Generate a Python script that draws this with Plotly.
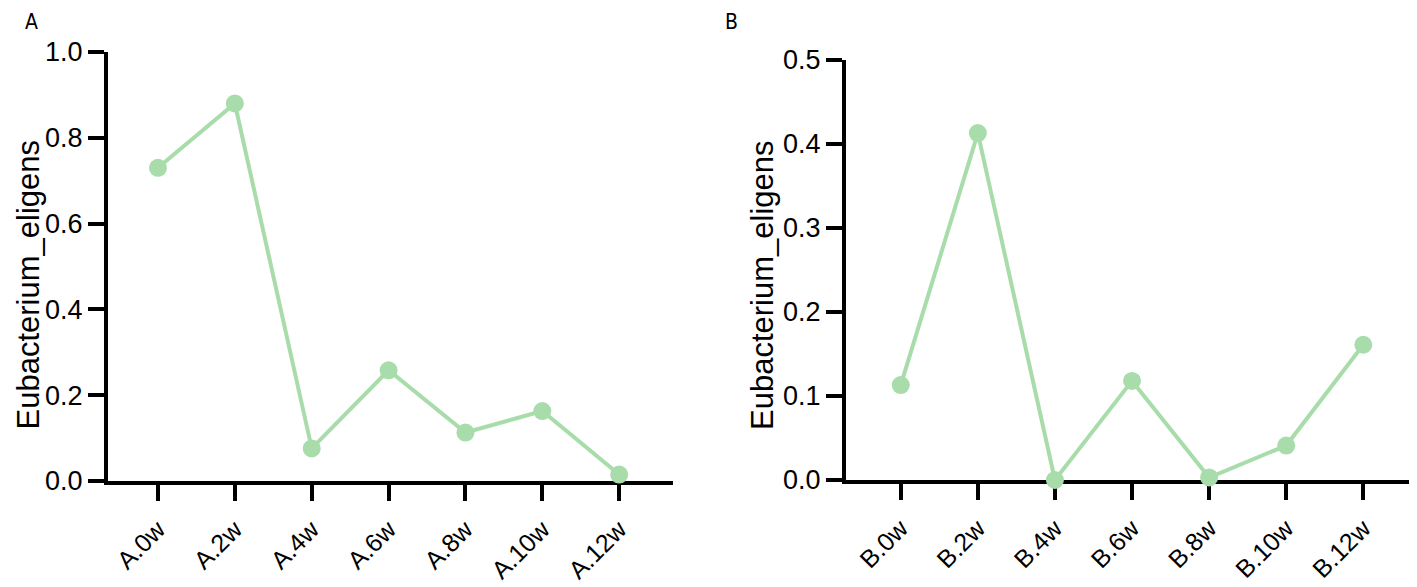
import plotly.graph_objects as go
from plotly.subplots import make_subplots

# sample labels and abundance values
labels_a = ["A.0w", "A.2w", "A.4w", "A.6w", "A.8w", "A.10w", "A.12w"]
values_a = [0.73, 0.88, 0.076, 0.258, 0.113, 0.163, 0.015]

labels_b = ["B.0w", "B.2w", "B.4w", "B.6w", "B.8w", "B.10w", "B.12w"]
values_b = [0.113, 0.413, 0.0, 0.118, 0.003, 0.041, 0.161]

green = "#a9dcab"
W, H = 1417, 587
OFF = 8  # page body margin


def px(x):
    return (x - OFF) / W


def py(y):
    return (H - (y - OFF)) / H


fig = make_subplots(rows=1, cols=2)

fig.add_trace(go.Scatter(x=labels_a, y=values_a, mode="lines+markers",
                         line=dict(color=green, width=4),
                         marker=dict(color=green, size=18),
                         cliponaxis=False, showlegend=False), row=1, col=1)
fig.add_trace(go.Scatter(x=labels_b, y=values_b, mode="lines+markers",
                         line=dict(color=green, width=4),
                         marker=dict(color=green, size=18),
                         cliponaxis=False, showlegend=False), row=1, col=2)

tick_font = dict(family="Liberation Sans, Arial", size=27, color="black")

axis_style = dict(showline=True, linecolor="black", linewidth=4,
                  ticks="outside", ticklen=16, tickwidth=4, tickcolor="black",
                  showgrid=False, zeroline=False, tickfont=tick_font,
                  layer="below traces", automargin=False)

fig.update_xaxes(**axis_style)
fig.update_yaxes(**axis_style)
fig.update_xaxes(tickangle=-45, ticklabelstandoff=4,
                 tickfont=dict(family="Liberation Sans, Arial", size=25, color="black"))

fig.update_layout(
    width=W, height=H,
    margin=dict(l=0, r=0, t=0, b=0),
    plot_bgcolor="white", paper_bgcolor="white",
    xaxis=dict(domain=[px(108), px(673)], range=[-0.65, 6.70]),
    yaxis=dict(domain=[py(481), py(52)], range=[0, 1.0],
               tickvals=[0, 0.2, 0.4, 0.6, 0.8, 1.0], tickformat=".1f"),
    xaxis2=dict(domain=[px(846), 1.0], range=[-0.71, 6.8]),
    yaxis2=dict(domain=[py(480), py(60)], range=[0, 0.5],
                tickvals=[0, 0.1, 0.2, 0.3, 0.4, 0.5], tickformat=".1f"),
)

title_font = dict(family="Liberation Sans, Arial", size=31, color="black")
fig.add_annotation(text="Eubacterium_eligens", textangle=-90, font=title_font,
                   xref="paper", yref="paper", x=0, y=py(285),
                   showarrow=False, xanchor="left", yanchor="middle")
fig.add_annotation(text="Eubacterium_eligens", textangle=-90, font=title_font,
                   xref="paper", yref="paper", x=px(762), y=py(285),
                   showarrow=False, xanchor="center", yanchor="middle")

panel_font = dict(family="Liberation Sans Narrow, DejaVu Sans Condensed", size=21, color="black")
fig.add_annotation(text="A", font=panel_font, xref="paper", yref="paper",
                   x=px(31), y=1, showarrow=False,
                   xanchor="center", yanchor="top")
fig.add_annotation(text="B", font=panel_font, xref="paper", yref="paper",
                   x=px(731), y=1, showarrow=False,
                   xanchor="center", yanchor="top")

fig.write_html("out.html")
